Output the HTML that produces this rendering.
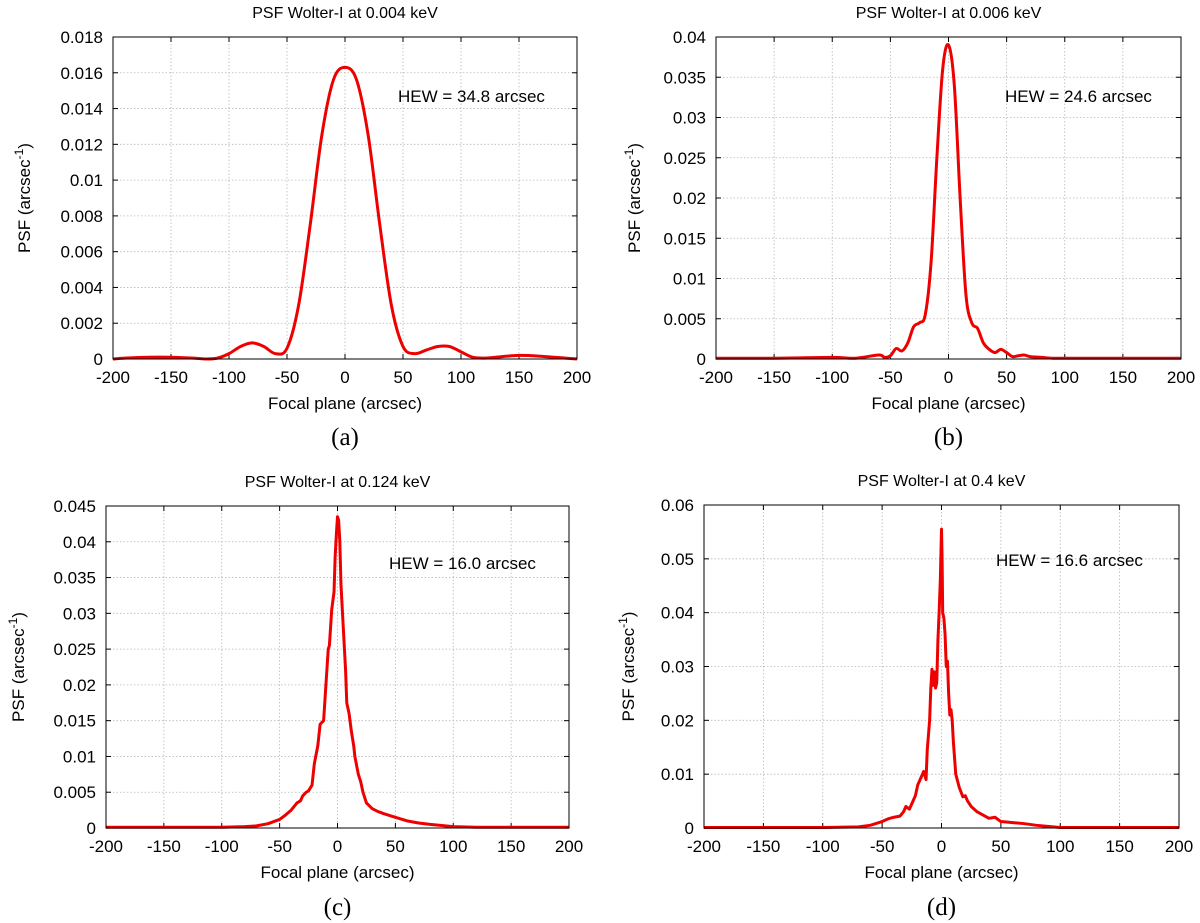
<!DOCTYPE html>
<html><head><meta charset="utf-8"><style>
html,body{margin:0;padding:0;background:#fff;width:1200px;height:923px;overflow:hidden}
svg text{font-family:"Liberation Sans",sans-serif;fill:#000}
</style></head><body>
<svg id="fig" width="1200" height="923" viewBox="0 0 1200 923" xmlns="http://www.w3.org/2000/svg"></svg>
<script>
const xTicks=[-200,-150,-100,-50,0,50,100,150,200];
const aX=[-200,-190,-170,-150,-130,-120,-110,-100,-90,-80,-70,-60,-50,-40,-30,-20,-10,0,10,20,30,40,50,60,70,80,90,100,110,120,130,150,170,190,200];
const aY=[0,0.00005,0.0001,0.0001,0.00005,0,0.00005,0.0003,0.0007,0.0009,0.0007,0.0003,0.0006,0.003,0.0075,0.0125,0.0156,0.0163,0.0156,0.0125,0.0075,0.003,0.0007,0.0003,0.0005,0.0007,0.0007,0.0004,0.0001,0.00005,0.0001,0.0002,0.00015,0.00005,0];
const aTicks=[0,0.002,0.004,0.006,0.008,0.01,0.012,0.014,0.016,0.018];
const bX=[-200,-150,-100,-80,-60,-55,-50,-45,-40,-35,-30,-25,-20,-15,-10,-5,0,5,10,15,20,25,30,35,40,45,50,55,60,65,70,80,90,100,150,200];
const bY=[0.0001,0.0001,0.0002,0.0001,0.0005,0.0002,0.0004,0.0013,0.001,0.002,0.004,0.0045,0.0055,0.012,0.025,0.036,0.039,0.034,0.02,0.008,0.0045,0.0038,0.002,0.0012,0.0008,0.0012,0.0008,0.0003,0.0004,0.0005,0.0003,0.0002,0.0001,0.0001,0.0001,0.0001];
const bTicks=[0,0.005,0.01,0.015,0.02,0.025,0.03,0.035,0.04];
const cX=[-200,-100,-80,-70,-60,-50,-45,-40,-35,-32,-30,-27,-25,-22,-20,-17,-15,-12,-10,-8,-7,-5,-3,-2,-1,0,1,2,3,5,7,8,10,12,14,15,18,20,22,25,30,35,40,50,60,70,80,100,120,150,200];
const cY=[0.0001,0.0001,0.0002,0.0003,0.0006,0.0012,0.0018,0.0025,0.0035,0.0038,0.0045,0.005,0.0052,0.006,0.009,0.0115,0.0145,0.015,0.02,0.025,0.0255,0.0305,0.033,0.038,0.041,0.0435,0.043,0.04,0.034,0.028,0.022,0.0175,0.016,0.0135,0.0115,0.01,0.0075,0.0065,0.005,0.0035,0.0027,0.0023,0.002,0.0015,0.001,0.0007,0.0005,0.0002,0.0001,0.0001,0.0001];
const cTicks=[0,0.005,0.01,0.015,0.02,0.025,0.03,0.035,0.04,0.045];
const dX=[-200,-100,-70,-60,-50,-45,-40,-35,-32,-30,-27,-25,-22,-20,-17,-15,-13,-12,-10,-9,-8,-7,-6,-5,-4,-3,-2,-1,0,0.5,1,2,3,4,5,6,7,8,9,10,12,15,18,20,22,25,30,35,40,45,50,60,70,80,100,150,200];
const dY=[0.0001,0.0001,0.0002,0.0005,0.0012,0.0017,0.002,0.0022,0.003,0.004,0.0035,0.0045,0.006,0.008,0.0095,0.0105,0.009,0.0145,0.02,0.026,0.0295,0.0265,0.029,0.026,0.027,0.035,0.04,0.046,0.0555,0.05,0.04,0.039,0.036,0.03,0.031,0.025,0.021,0.022,0.02,0.016,0.01,0.0075,0.0058,0.006,0.005,0.004,0.003,0.0024,0.0018,0.002,0.0012,0.001,0.0008,0.0005,0.0001,0.0001,0.0001];
const dTicks=[0,0.01,0.02,0.03,0.04,0.05,0.06];

const NS="http://www.w3.org/2000/svg";
const svg=document.getElementById('fig');
function mk(tag,attrs,parent,text){const e=document.createElementNS(NS,tag);for(const k in attrs)e.setAttribute(k,attrs[k]);if(text!==undefined)e.textContent=text;(parent||svg).appendChild(e);return e;}

function panel(o){
  const g=mk('g',{});
  
  
  const xmin=-200,xmax=200,ymax=o.ticks[o.ticks.length-1];
  const sx=v=>o.L+(v-xmin)/(xmax-xmin)*(o.R-o.L);
  const sy=v=>o.B-v/ymax*(o.B-o.T);
  xTicks.forEach(t=>{if(t>xmin&&t<xmax){const l=mk('line',{x1:sx(t),x2:sx(t),y1:o.T,y2:o.B,stroke:'#b8b8b8','stroke-width':0.8,'stroke-dasharray':'1.5,2'},g);}});
  o.ticks.forEach(t=>{if(t>0&&t<ymax){const l=mk('line',{x1:o.L,x2:o.R,y1:sy(t),y2:sy(t),stroke:'#b8b8b8','stroke-width':0.8,'stroke-dasharray':'1.5,2'},g);}});
  xTicks.forEach(t=>{
    mk('line',{x1:sx(t),x2:sx(t),y1:o.B,y2:o.B-5,stroke:'#000','stroke-width':1},g);
    mk('line',{x1:sx(t),x2:sx(t),y1:o.T,y2:o.T+5,stroke:'#000','stroke-width':1},g);
    const tx=mk('text',{x:sx(t),y:o.B+24,'text-anchor':'middle','font-size':17},g,String(t));
    
    
  });
  o.ticks.forEach(t=>{
    mk('line',{x1:o.L,x2:o.L+5,y1:sy(t),y2:sy(t),stroke:'#000','stroke-width':1},g);
    mk('line',{x1:o.R,x2:o.R-5,y1:sy(t),y2:sy(t),stroke:'#000','stroke-width':1},g);
    const tx=mk('text',{x:o.L-10,y:sy(t)+6,'text-anchor':'end','font-size':17},g,String(t));
    
    
  });
  let pts=o.xs.map((x,i)=>[sx(x),sy(o.ys[i])]);
  let d='';
  if(o.smooth){
    d='M'+pts[0][0]+','+pts[0][1];
    for(let i=0;i<pts.length-1;i++){
      const p0=pts[Math.max(0,i-1)],p1=pts[i],p2=pts[i+1],p3=pts[Math.min(pts.length-1,i+2)];
      const c1=[p1[0]+(p2[0]-p0[0])/6,p1[1]+(p2[1]-p0[1])/6],c2=[p2[0]-(p3[0]-p1[0])/6,p2[1]-(p3[1]-p1[1])/6];
      d+=` C${c1[0]},${c1[1]} ${c2[0]},${c2[1]} ${p2[0]},${p2[1]}`;
    }
  } else d='M'+pts.map(p=>p.join(',')).join(' L');
  const path=mk('path',{d:d,fill:'none',stroke:'#ee0000','stroke-width':3,'stroke-linejoin':'round'},g);
  
  
  const fr=mk('rect',{x:o.L,y:o.T,width:o.R-o.L,height:o.B-o.T,fill:'none',stroke:'#000','stroke-width':1},g);
  
  
  const cx=(o.L+o.R)/2;
  const ti=mk('text',{x:cx,y:o.T-19,'text-anchor':'middle','font-size':16},g,o.title);
  
  
  const xl=mk('text',{x:cx,y:o.B+50,'text-anchor':'middle','font-size':17},g,'Focal plane (arcsec)');
  
  
  const yl=mk('text',{transform:`translate(${o.yl},${(o.T+o.B)/2}) rotate(-90)`,'text-anchor':'middle','font-size':17},g);
  
  
  yl.innerHTML='PSF (arcsec<tspan dy="-7" font-size="12">-1</tspan><tspan dy="7">)</tspan>';
  const hw=mk('text',{x:o.hx,y:o.hy,'font-size':17},g,o.hew);
  
  
  const cap=mk('text',{x:cx,y:o.B+o.capY,'text-anchor':'middle','font-size':25,style:'font-family:"Liberation Serif",serif'},g,o.cap);
  
  
}
panel({id:'a',L:113,R:577,T:37,B:359,ticks:aTicks,xs:aX,ys:aY,smooth:true,title:'PSF Wolter-I at 0.004 keV',yl:30,hx:398,hy:102,hew:'HEW = 34.8 arcsec',cap:'(a)',capY:86});
panel({id:'b',L:716,R:1181,T:37,B:359,ticks:bTicks,xs:bX,ys:bY,smooth:true,title:'PSF Wolter-I at 0.006 keV',yl:640,hx:1005,hy:102,hew:'HEW = 24.6 arcsec',cap:'(b)',capY:86});
panel({id:'c',L:106,R:569,T:506,B:828,ticks:cTicks,xs:cX,ys:cY,smooth:false,title:'PSF Wolter-I at 0.124 keV',yl:24,hx:389,hy:569,hew:'HEW = 16.0 arcsec',cap:'(c)',capY:87});
panel({id:'d',L:704,R:1179,T:505,B:828,ticks:dTicks,xs:dX,ys:dY,smooth:false,title:'PSF Wolter-I at 0.4 keV',yl:634,hx:996,hy:566,hew:'HEW = 16.6 arcsec',cap:'(d)',capY:87});
</script>
</body></html>
